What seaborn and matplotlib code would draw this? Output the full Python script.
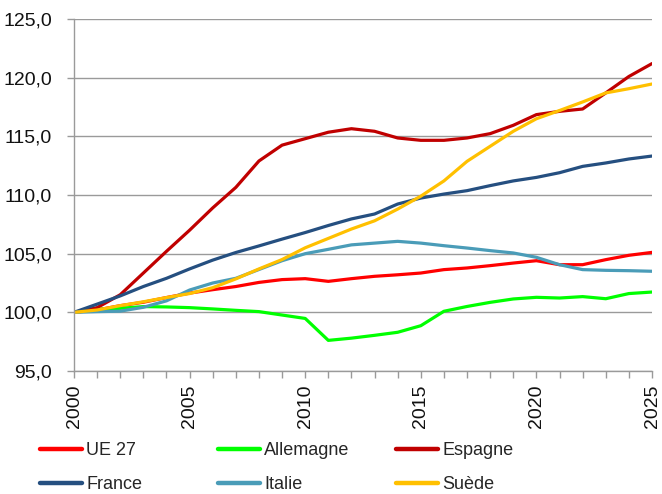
import matplotlib
matplotlib.use("Agg")
import matplotlib.pyplot as plt
from matplotlib.lines import Line2D
from matplotlib.ticker import FuncFormatter, MultipleLocator
import seaborn as sns
import pandas as pd
import numpy as np

# years 2000..2025
years = list(range(2000, 2026))

ue27 = [100.0, 100.2, 100.57, 100.86, 101.26, 101.64, 101.93, 102.2, 102.55, 102.79, 102.87, 102.64, 102.87,
        103.07, 103.2, 103.35, 103.64, 103.78, 103.98, 104.2, 104.4, 104.06, 104.06, 104.49, 104.86, 105.11]
allemagne = [100.0, 100.26, 100.34, 100.49, 100.46, 100.4, 100.29, 100.17, 100.06, 99.77, 99.48, 97.61, 97.8,
             98.04, 98.3, 98.86, 100.09, 100.5, 100.85, 101.14, 101.28, 101.22, 101.34, 101.16, 101.6, 101.73]
espagne = [100.0, 100.4, 101.5, 103.35, 105.2, 107.0, 108.9, 110.65, 112.9, 114.25, 114.8, 115.35, 115.65,
           115.43, 114.86, 114.66, 114.66, 114.86, 115.23, 115.94, 116.85, 117.13, 117.33, 118.7, 120.1, 121.2]
france = [100.0, 100.7, 101.4, 102.2, 102.9, 103.7, 104.45, 105.1, 105.66, 106.24, 106.8, 107.4, 107.96,
          108.38, 109.23, 109.74, 110.08, 110.37, 110.8, 111.2, 111.5, 111.9, 112.44, 112.73, 113.07, 113.32]
italie = [100.0, 100.06, 100.1, 100.43, 100.98, 101.9, 102.5, 102.9, 103.65, 104.4, 105.0, 105.37, 105.75,
          105.9, 106.05, 105.9, 105.68, 105.48, 105.26, 105.06, 104.69, 104.06, 103.64, 103.58, 103.55, 103.5]
suede = [100.0, 100.2, 100.57, 100.9, 101.26, 101.6, 102.1, 102.85, 103.7, 104.5, 105.5, 106.3, 107.1,
         107.8, 108.8, 109.9, 111.2, 112.87, 114.15, 115.43, 116.5, 117.2, 117.93, 118.7, 119.06, 119.46]

series_names = ["UE 27", "Allemagne", "Espagne", "France", "Italie", "Suède"]
colors = ["#FF0000", "#00FF00", "#C00000", "#254F80", "#4A9CB8", "#FFC000"]
y_ticks = [95, 100, 105, 110, 115, 120, 125]
x_ticks = [2000, 2005, 2010, 2015, 2020, 2025]

series_values = [ue27, allemagne, espagne, france, italie, suede]
df = pd.DataFrame({
    "annee": np.tile(years, len(series_names)),
    "valeur": np.concatenate(series_values),
    "pays": np.repeat(series_names, len(years)),
})

sns.set_style("white")
plt.rcParams["font.family"] = ["Liberation Sans Narrow", "Liberation Sans", "DejaVu Sans"]

fig = plt.figure(figsize=(6.62, 4.94), dpi=100)
ax = fig.add_axes([74 / 662, 1 - 371 / 494, 578 / 662, 352 / 494])

palette = dict(zip(series_names, colors))
sns.lineplot(data=df, x="annee", y="valeur", hue="pays", hue_order=series_names,
             palette=palette, linewidth=2.3, legend=False, ax=ax)

grid_col = "#9A9A9A"
ax.set_xlim(2000, 2025)
ax.set_ylim(95, 125)
ax.set_yticks(y_ticks)
ax.set_xticks(x_ticks)
ax.xaxis.set_minor_locator(MultipleLocator(1))
ax.yaxis.set_major_formatter(FuncFormatter(lambda v, p: f"{v:.1f}".replace(".", ",")))
ax.yaxis.grid(True, color=grid_col, linewidth=1.0)
ax.xaxis.grid(False)
ax.set_axisbelow(True)
for s in ["top", "right"]:
    ax.spines[s].set_visible(False)
for s in ["left", "bottom"]:
    ax.spines[s].set_color(grid_col)
    ax.spines[s].set_linewidth(1.0)
ax.set_xlabel("")
ax.set_ylabel("")

ax.tick_params(axis="y", which="major", direction="out", length=5, width=1.0, color=grid_col,
               pad=11, labelsize=14, labelcolor="#111111", left=True)
ax.tick_params(axis="x", which="both", direction="out", length=5, width=1.0, color=grid_col,
               bottom=True)
ax.tick_params(axis="x", which="major", pad=5, labelsize=14, labelcolor="#111111", labelrotation=90)

# legend: three columns, two rows, Excel-like even spacing
col_x = [40, 218, 396]
columns = [[0, 3], [1, 4], [2, 5]]
for cx, idx in zip(col_x, columns):
    handles = [Line2D([], [], color=colors[i], linewidth=3.2, solid_capstyle="round") for i in idx]
    labels = [series_names[i] for i in idx]
    fig.legend(handles, labels, loc="upper left", bbox_to_anchor=(cx / 662, 1 - 442 / 494),
               frameon=False, fontsize=13, handlelength=2.3, handletextpad=0.25,
               borderpad=0, borderaxespad=0, labelspacing=0.95)

fig.savefig("out.png", dpi=100)
